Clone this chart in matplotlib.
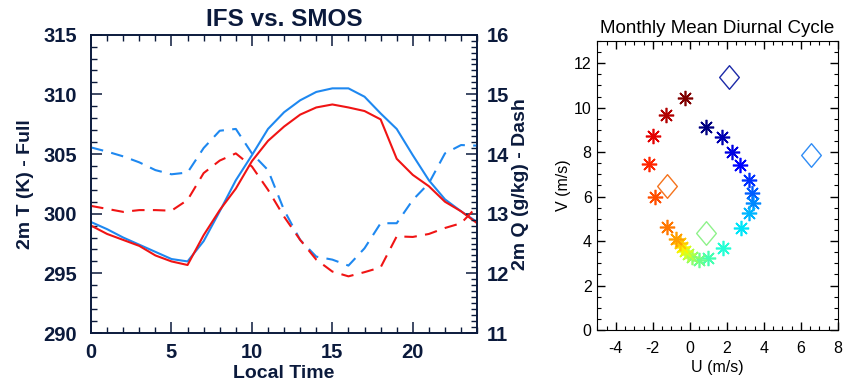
#!/usr/bin/env python3
"""IFS vs. SMOS diurnal cycle and monthly mean wind hodograph."""

import matplotlib
matplotlib.use('Agg')
import matplotlib.pyplot as plt
from matplotlib.path import Path
from matplotlib.ticker import MultipleLocator
import numpy as np

plt.rcParams['axes.unicode_minus'] = False

# ---- data ----
hours = list(range(25))

t_blue = [299.3, 298.7, 298.0, 297.4, 296.8, 296.2, 296.0, 297.7, 300.2, 302.8,
          304.9, 307.1, 308.5, 309.5, 310.2, 310.5, 310.5, 309.8, 308.4, 307.1,
          304.9, 302.8, 301.2, 300.2, 299.3]
t_red = [299.0, 298.3, 297.8, 297.3, 296.5, 296.0, 295.7, 298.2, 300.3, 302.1,
         304.4, 306.1, 307.3, 308.3, 308.9, 309.15, 308.9, 308.6, 307.9, 304.6,
         303.25, 302.3, 301.0, 300.2, 299.2]
q_blue = [14.11, 14.04, 13.96, 13.86, 13.73, 13.66, 13.69, 14.10, 14.39, 14.42,
          14.01, 13.73, 13.06, 12.56, 12.28, 12.23, 12.13, 12.42, 12.84, 12.84,
          13.23, 13.51, 14.01, 14.15, 14.14]
q_red = [13.13, 13.08, 13.03, 13.06, 13.06, 13.05, 13.23, 13.68, 13.89, 14.01,
         13.79, 13.40, 12.95, 12.56, 12.23, 12.03, 11.95, 12.02, 12.10, 12.62,
         12.61, 12.66, 12.76, 12.84, 13.12]

# hourly mean wind, in time order (colour runs through jet)
u_wind = [0.90, 1.74, 2.26, 2.73, 3.17, 3.37, 3.40, 3.22, 2.77, 1.81,
          1.00, 0.51, 0.14, -0.09, -0.25, -0.40, -0.54, -0.76, -1.23, -1.90,
          -2.21, -1.97, -1.30, -0.25]
v_wind = [9.12, 8.70, 8.02, 7.42, 6.75, 6.18, 5.73, 5.25, 4.57, 3.70,
          3.22, 3.15, 3.27, 3.42, 3.57, 3.72, 3.90, 4.08, 4.65, 6.00,
          7.47, 8.73, 9.67, 10.42]

# the four open diamonds
u_diam = [2.14, 6.57, 0.87, -1.23]
v_diam = [11.39, 7.87, 4.38, 6.48]
diam_colors = ['#1c2aa8', '#2f8cf5', '#8ef28a', '#f5731c']

navy = '#0b1a3c'
blue = '#1e88f0'
red = '#f01414'
sans = ['Liberation Sans', 'DejaVu Sans']

fig = plt.figure(figsize=(8.43, 3.85), dpi=100)
fig.patch.set_facecolor('white')

# ---- left panel ----
bold = dict(family=sans, weight='bold', color=navy)
ax = fig.add_axes([0.108, 0.135, 0.458, 0.775])
ax.plot(hours, t_blue, color=blue, lw=1.5)
ax.plot(hours, t_red, color=red, lw=1.5)
ax.set_xlim(0, 24)
ax.set_ylim(290, 315)
ax.xaxis.set_major_locator(MultipleLocator(5))
ax.xaxis.set_minor_locator(MultipleLocator(1))
ax.yaxis.set_major_locator(MultipleLocator(5))
ax.yaxis.set_minor_locator(MultipleLocator(1))
ax.tick_params(which='both', direction='in', top=True, right=False, colors=navy,
               labelsize=14.5)
ax.tick_params(axis='x', pad=7)
ax.tick_params(axis='y', pad=10)
ax.tick_params(which='major', length=8, width=1.1)
ax.tick_params(which='minor', length=4, width=1.0)
for lab in ax.get_xticklabels() + ax.get_yticklabels():
    lab.set_fontweight('bold')
    lab.set_family(sans)
for sp in ax.spines.values():
    sp.set_color(navy)
    sp.set_linewidth(1.2)
ax.set_title('IFS vs. SMOS', fontsize=17.5, pad=6, **bold)
ax.set_xlabel('Local Time', fontsize=14, labelpad=2, **bold)
ax.set_ylabel('2m T (K) - Full', fontsize=14, labelpad=7, **bold)

ax2 = ax.twinx()
ax2.plot(hours, q_blue, color=blue, lw=1.5, ls=(0, (6, 4)))
ax2.plot(hours, q_red, color=red, lw=1.5, ls=(0, (6, 4)))
ax2.set_ylim(11, 16)
ax2.yaxis.set_major_locator(MultipleLocator(1))
ax2.yaxis.set_minor_locator(MultipleLocator(0.1))
ax2.tick_params(which='both', direction='in', colors=navy, labelsize=14.5, pad=7)
ax2.tick_params(which='major', length=8, width=1.1)
ax2.tick_params(which='minor', length=4, width=1.0)
for lab in ax2.get_yticklabels():
    lab.set_fontweight('bold')
    lab.set_family(sans)
for sp in ax2.spines.values():
    sp.set_color(navy)
    sp.set_linewidth(1.2)
ax2.set_ylabel('2m Q (g/kg) - Dash', fontsize=14, labelpad=2, **bold)

# ---- right panel ----
bx = fig.add_axes([0.7085, 0.1429, 0.2855, 0.7506])
colors = plt.cm.jet(np.linspace(0, 1, len(u_wind)))
asterisk = (8, 2, 0)
for u, v, c in zip(u_wind, v_wind, colors):
    bx.plot(u, v, marker=asterisk, ms=11, mew=1.2, color=c, ls='none')

diamond = Path([(0, 1.2), (1, 0), (0, -1.2), (-1, 0), (0, 1.2)],
               [Path.MOVETO, Path.LINETO, Path.LINETO, Path.LINETO, Path.CLOSEPOLY])
for u, v, c in zip(u_diam, v_diam, diam_colors):
    bx.plot(u, v, marker=diamond, ms=17, mfc='none', mec=c, mew=1.0, ls='none')

bx.set_xlim(-5, 8)
bx.set_ylim(0, 13)
bx.xaxis.set_major_locator(MultipleLocator(2))
bx.xaxis.set_minor_locator(MultipleLocator(0.5))
bx.yaxis.set_major_locator(MultipleLocator(2))
bx.yaxis.set_minor_locator(MultipleLocator(0.5))
bx.tick_params(which='both', direction='in', top=True, right=True, colors='black',
               labelsize=11.5)
bx.tick_params(axis='x', pad=8)
bx.tick_params(axis='y', pad=4)
bx.tick_params(which='major', length=6, width=1.0)
bx.tick_params(which='minor', length=3, width=0.8)
for lab in bx.get_xticklabels() + bx.get_yticklabels():
    lab.set_family(sans)
bx.set_title('Monthly Mean Diurnal Cycle', fontsize=13.5, family=sans, pad=6)
bx.set_xlabel('U (m/s)', fontsize=11.5, family=sans, labelpad=3)
bx.set_ylabel('V (m/s)', fontsize=11.5, family=sans, labelpad=2)

fig.savefig('out.png', dpi=100, facecolor='white')
plt.close(fig)
